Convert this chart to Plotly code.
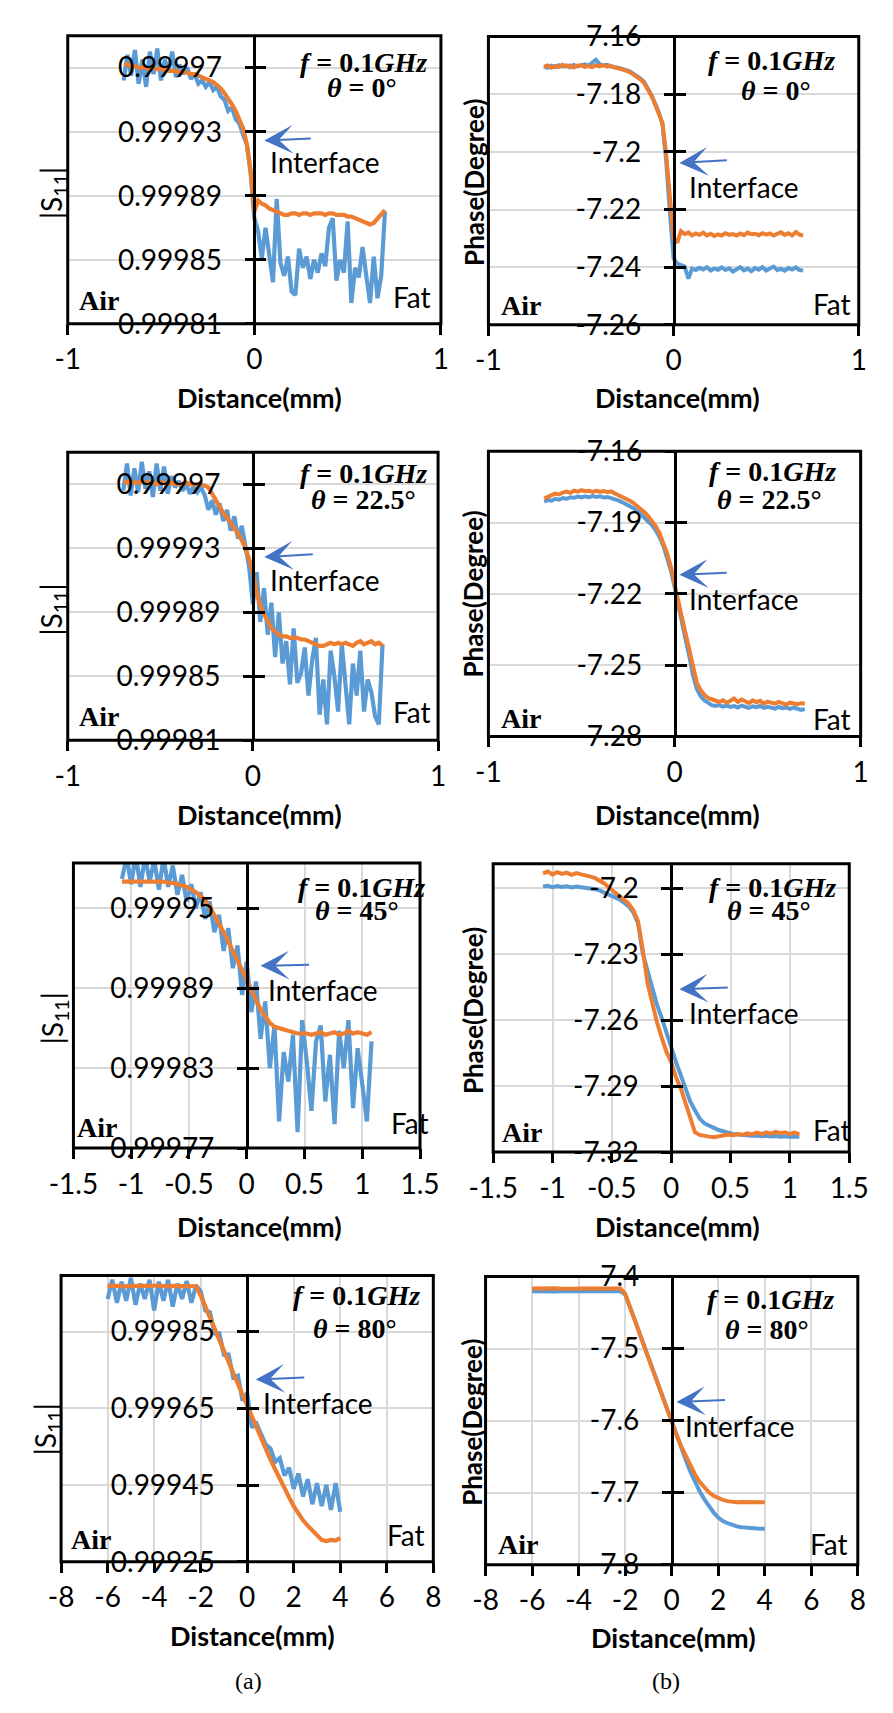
import plotly.graph_objects as go

W, H = 893, 1713
BLUE = "#5B9BD5"
ORANGE = "#ED7D31"
ARROW = "#4472C4"
GRID = "#D9D9D9"

# ---------------- data ----------------
X_A = [-0.70, -0.68, -0.66, -0.64, -0.62, -0.60, -0.58, -0.56, -0.54, -0.52,
       -0.50, -0.48, -0.46, -0.44, -0.42, -0.40, -0.38, -0.36, -0.34, -0.32,
       -0.30, -0.28, -0.26, -0.24, -0.22, -0.20, -0.18, -0.16, -0.14, -0.12,
       -0.10, -0.08, -0.06, -0.04, -0.02, 0.00, 0.02, 0.04, 0.06, 0.08,
       0.10, 0.12, 0.14, 0.16, 0.18, 0.20, 0.22, 0.24, 0.26, 0.28,
       0.30, 0.32, 0.34, 0.36, 0.38, 0.40, 0.42, 0.44, 0.46, 0.48,
       0.50, 0.52, 0.54, 0.56, 0.58, 0.60, 0.62, 0.64, 0.66, 0.68,
       0.70]

S11_0_BLUE = [0.999962, 0.999978, 0.999965, 0.999981, 0.999960, 0.999975, 0.999958, 0.999980, 0.999966, 0.999982,
              0.999962, 0.999975, 0.999968, 0.999980, 0.999964, 0.999972, 0.999966, 0.999970, 0.999963, 0.999966,
              0.999960, 0.999962, 0.999958, 0.999961, 0.999956, 0.999958, 0.999952, 0.999950, 0.999943, 0.999945,
              0.999938, 0.999935, 0.999928, 0.999922, 0.999905, 0.999876, 0.999868, 0.999851, 0.999870, 0.999852,
              0.999836, 0.999888, 0.999848, 0.999840, 0.999852, 0.999830, 0.999828, 0.999857, 0.999845, 0.999852,
              0.999838, 0.999850, 0.999842, 0.999854, 0.999846, 0.999870, 0.999876, 0.999837, 0.999850, 0.999842,
              0.999874, 0.999823, 0.999845, 0.999839, 0.999858, 0.999840, 0.999823, 0.999852, 0.999826, 0.999840,
              0.999880]
S11_0_ORANGE = [0.999972, 0.999972, 0.999971, 0.999971, 0.999970, 0.999970, 0.999970, 0.999969, 0.999970, 0.999969,
                0.999969, 0.999969, 0.999968, 0.999968, 0.999968, 0.999967, 0.999967, 0.999967, 0.999966, 0.999966,
                0.999965, 0.999964, 0.999963, 0.999962, 0.999961, 0.999959, 0.999957, 0.999954, 0.999951, 0.999947,
                0.999943, 0.999938, 0.999932, 0.999922, 0.999905, 0.999880, 0.999887, 0.999885, 0.999884, 0.999882,
                0.999881, 0.999880, 0.999879, 0.999878, 0.999878, 0.999879, 0.999879, 0.999878, 0.999879, 0.999879,
                0.999878, 0.999879, 0.999879, 0.999879, 0.999878, 0.999879, 0.999879, 0.999878, 0.999878, 0.999878,
                0.999877, 0.999877, 0.999876, 0.999875, 0.999874, 0.999873, 0.999872, 0.999873, 0.999876, 0.999878,
                0.999881]

PH_0_BLUE = [-7.1703, -7.1708, -7.1701, -7.1706, -7.1699, -7.1704, -7.1700, -7.1706, -7.1698, -7.1703,
             -7.1700, -7.1696, -7.1701, -7.1690, -7.1680, -7.1695, -7.1700, -7.1698, -7.1703, -7.1706,
             -7.1708, -7.1712, -7.1717, -7.1720, -7.1728, -7.1736, -7.1745, -7.1757, -7.1778, -7.1802,
             -7.1832, -7.1862, -7.1905, -7.2030, -7.2210, -7.2370, -7.2388, -7.2392, -7.2398, -7.2440,
             -7.2405, -7.2410, -7.2402, -7.2408, -7.2400, -7.2412, -7.2405, -7.2409, -7.2401, -7.2410,
             -7.2404, -7.2415, -7.2406, -7.2400, -7.2411, -7.2405, -7.2414, -7.2403, -7.2409, -7.2400,
             -7.2412, -7.2404, -7.2398, -7.2410, -7.2406, -7.2412, -7.2403, -7.2408, -7.2401, -7.2410,
             -7.2412]
PH_0_ORANGE = [-7.1705, -7.1700, -7.1708, -7.1702, -7.1706, -7.1698, -7.1704, -7.1700, -7.1707, -7.1701,
               -7.1699, -7.1705, -7.1702, -7.1706, -7.1700, -7.1703, -7.1698, -7.1704, -7.1702, -7.1707,
               -7.1710, -7.1713, -7.1716, -7.1722, -7.1730, -7.1738, -7.1748, -7.1760, -7.1780, -7.1805,
               -7.1835, -7.1865, -7.1900, -7.2010, -7.2170, -7.2300, -7.2315, -7.2275, -7.2285, -7.2280,
               -7.2290, -7.2283, -7.2288, -7.2280, -7.2290, -7.2284, -7.2292, -7.2286, -7.2290, -7.2282,
               -7.2288, -7.2285, -7.2290, -7.2283, -7.2289, -7.2280, -7.2286, -7.2284, -7.2289, -7.2282,
               -7.2287, -7.2283, -7.2290, -7.2285, -7.2279, -7.2288, -7.2282, -7.2290, -7.2278, -7.2287,
               -7.2290]

S11_22_BLUE = [0.999966, 0.999983, 0.999963, 0.999980, 0.999965, 0.999984, 0.999967, 0.999978, 0.999962, 0.999983,
               0.999966, 0.999981, 0.999964, 0.999975, 0.999968, 0.999972, 0.999966, 0.999970, 0.999964, 0.999969,
               0.999965, 0.999968, 0.999963, 0.999954, 0.999960, 0.999951, 0.999958, 0.999947, 0.999954, 0.999941,
               0.999950, 0.999936, 0.999944, 0.999932, 0.999918, 0.999895, 0.999915, 0.999884, 0.999905, 0.999876,
               0.999896, 0.999862, 0.999890, 0.999858, 0.999872, 0.999845, 0.999880, 0.999846, 0.999852, 0.999868,
               0.999838, 0.999860, 0.999874, 0.999826, 0.999848, 0.999820, 0.999866, 0.999850, 0.999828, 0.999870,
               0.999842, 0.999820, 0.999858, 0.999838, 0.999866, 0.999828, 0.999848, 0.999840, 0.999825, 0.999820,
               0.999870]
S11_22_ORANGE = [0.999972, 0.999971, 0.999972, 0.999971, 0.999971, 0.999972, 0.999971, 0.999971, 0.999971, 0.999970,
                 0.999971, 0.999971, 0.999970, 0.999971, 0.999970, 0.999970, 0.999970, 0.999971, 0.999970, 0.999970,
                 0.999970, 0.999970, 0.999969, 0.999968, 0.999964, 0.999960, 0.999955, 0.999952, 0.999949, 0.999946,
                 0.999943, 0.999939, 0.999935, 0.999930, 0.999923, 0.999915, 0.999903, 0.999894, 0.999889, 0.999884,
                 0.999880, 0.999878, 0.999876, 0.999875, 0.999875, 0.999874, 0.999874, 0.999874, 0.999873, 0.999873,
                 0.999872, 0.999871, 0.999870, 0.999869, 0.999869, 0.999870, 0.999871, 0.999870, 0.999871, 0.999870,
                 0.999871, 0.999870, 0.999869, 0.999871, 0.999872, 0.999870, 0.999871, 0.999872, 0.999870, 0.999871,
                 0.999869]

PH_22_BLUE = [-7.1812, -7.1805, -7.1808, -7.1800, -7.1804, -7.1797, -7.1800, -7.1794, -7.1796, -7.1791,
              -7.1794, -7.1790, -7.1793, -7.1789, -7.1792, -7.1790, -7.1795, -7.1793, -7.1797, -7.1801,
              -7.1808, -7.1815, -7.1822, -7.1830, -7.1840, -7.1852, -7.1866, -7.1880, -7.1895, -7.1912,
              -7.1935, -7.1962, -7.1998, -7.2045, -7.2100, -7.2170, -7.2250, -7.2320, -7.2395, -7.2465,
              -7.2545, -7.2600, -7.2630, -7.2648, -7.2660, -7.2668, -7.2672, -7.2668, -7.2675, -7.2670,
              -7.2676, -7.2672, -7.2678, -7.2670, -7.2675, -7.2680, -7.2673, -7.2677, -7.2672, -7.2680,
              -7.2675, -7.2679, -7.2683, -7.2676, -7.2681, -7.2678, -7.2684, -7.2679, -7.2683, -7.2688,
              -7.2685]
PH_22_ORANGE = [-7.1799, -7.1790, -7.1785, -7.1778, -7.1782, -7.1774, -7.1770, -7.1775, -7.1766, -7.1770,
                -7.1764, -7.1768, -7.1766, -7.1771, -7.1767, -7.1770, -7.1768, -7.1772, -7.1769, -7.1778,
                -7.1785, -7.1792, -7.1800, -7.1808, -7.1818, -7.1830, -7.1843, -7.1858, -7.1875, -7.1895,
                -7.1917, -7.1945, -7.1985, -7.2030, -7.2085, -7.2150, -7.2230, -7.2300, -7.2370, -7.2440,
                -7.2520, -7.2575, -7.2605, -7.2625, -7.2638, -7.2645, -7.2650, -7.2655, -7.2648, -7.2658,
                -7.2650, -7.2640, -7.2655, -7.2645, -7.2652, -7.2660, -7.2648, -7.2656, -7.2650, -7.2662,
                -7.2654, -7.2658, -7.2662, -7.2655, -7.2660, -7.2666, -7.2658, -7.2662, -7.2664, -7.2660,
                -7.2662]

X_B = [-1.08, -1.04, -1.00, -0.96, -0.92, -0.88, -0.84, -0.80, -0.76, -0.72,
       -0.68, -0.64, -0.60, -0.56, -0.52, -0.48, -0.44, -0.40, -0.36, -0.32,
       -0.28, -0.24, -0.20, -0.16, -0.12, -0.08, -0.04, 0.00, 0.04, 0.08,
       0.12, 0.16, 0.20, 0.24, 0.28, 0.32, 0.36, 0.40, 0.44, 0.48,
       0.52, 0.56, 0.60, 0.64, 0.68, 0.72, 0.76, 0.80, 0.84, 0.88,
       0.92, 0.96, 1.00, 1.04, 1.08]

S11_45_BLUE = [0.999972, 0.999988, 0.999968, 0.999990, 0.999966, 0.999989, 0.999970, 0.999986, 0.999964, 0.999988,
               0.999966, 0.999982, 0.999960, 0.999975, 0.999955, 0.999968, 0.999950, 0.999962, 0.999942, 0.999955,
               0.999932, 0.999945, 0.999918, 0.999935, 0.999905, 0.999922, 0.999885, 0.999910, 0.999872, 0.999895,
               0.999852, 0.999880, 0.999830, 0.999862, 0.999790, 0.999842, 0.999820, 0.999855, 0.999782, 0.999866,
               0.999835, 0.999798, 0.999850, 0.999862, 0.999805, 0.999840, 0.999788, 0.999858, 0.999830, 0.999866,
               0.999800, 0.999845, 0.999818, 0.999790, 0.999850]
S11_45_ORANGE = [0.999970, 0.999970, 0.999970, 0.999970, 0.999970, 0.999970, 0.999970, 0.999970, 0.999970, 0.999970,
                 0.999969, 0.999969, 0.999968, 0.999967, 0.999966, 0.999964, 0.999962, 0.999959, 0.999956, 0.999951,
                 0.999945, 0.999939, 0.999932, 0.999925, 0.999918, 0.999910, 0.999903, 0.999896, 0.999889, 0.999881,
                 0.999874, 0.999869, 0.999864, 0.999861, 0.999860, 0.999859, 0.999858, 0.999857, 0.999856, 0.999856,
                 0.999856, 0.999855, 0.999856, 0.999857, 0.999855, 0.999856, 0.999857, 0.999855, 0.999856, 0.999858,
                 0.999856, 0.999857, 0.999856, 0.999855, 0.999857]

PH_45_BLUE = [-7.1993, -7.1990, -7.1996, -7.1991, -7.1995, -7.1992, -7.1997, -7.1993, -7.1996, -7.1998,
              -7.2000, -7.2005, -7.2012, -7.2022, -7.2032, -7.2040, -7.2050, -7.2065, -7.2082, -7.2110,
              -7.2160, -7.2296, -7.2380, -7.2460, -7.2530, -7.2590, -7.2660, -7.2720, -7.2790, -7.2850,
              -7.2910, -7.2970, -7.3010, -7.3048, -7.3070, -7.3082, -7.3090, -7.3100, -7.3108, -7.3112,
              -7.3118, -7.3120, -7.3124, -7.3122, -7.3126, -7.3125, -7.3128, -7.3126, -7.3129, -7.3127,
              -7.3130, -7.3128, -7.3131, -7.3129, -7.3130]
PH_45_ORANGE = [-7.1933, -7.1925, -7.1938, -7.1928, -7.1936, -7.1930, -7.1940, -7.1932, -7.1938, -7.1942,
                -7.1948, -7.1955, -7.1965, -7.1980, -7.2000, -7.2018, -7.2035, -7.2052, -7.2070, -7.2100,
                -7.2150, -7.2280, -7.2430, -7.2520, -7.2610, -7.2680, -7.2745, -7.2790, -7.2860, -7.2910,
                -7.2980, -7.3050, -7.3110, -7.3122, -7.3128, -7.3130, -7.3133, -7.3128, -7.3125, -7.3120,
                -7.3124, -7.3118, -7.3122, -7.3115, -7.3120, -7.3112, -7.3118, -7.3110, -7.3116, -7.3108,
                -7.3114, -7.3110, -7.3118, -7.3112, -7.3120]

X_C = [-6.0, -5.8, -5.6, -5.4, -5.2, -5.0, -4.8, -4.6, -4.4, -4.2,
       -4.0, -3.8, -3.6, -3.4, -3.2, -3.0, -2.8, -2.6, -2.4, -2.2,
       -2.0, -1.8, -1.6, -1.4, -1.2, -1.0, -0.8, -0.6, -0.4, -0.2,
       0.0, 0.2, 0.4, 0.6, 0.8, 1.0, 1.2, 1.4, 1.6, 1.8,
       2.0, 2.2, 2.4, 2.6, 2.8, 3.0, 3.2, 3.4, 3.6, 3.8,
       4.0]

S11_80_BLUE = [0.999935, 0.999985, 0.999925, 0.999980, 0.999930, 0.999990, 0.999920, 0.999975, 0.999935, 0.999985,
               0.999905, 0.999980, 0.999930, 0.999985, 0.999915, 0.999975, 0.999935, 0.999982, 0.999925, 0.999970,
               0.999955, 0.999905, 0.999900, 0.999845, 0.999845, 0.999790, 0.999790, 0.999730, 0.999735, 0.999670,
               0.999690, 0.999600, 0.999610, 0.999585, 0.999555, 0.999545, 0.999510, 0.999520, 0.999475, 0.999495,
               0.999440, 0.999480, 0.999420, 0.999465, 0.999400, 0.999455, 0.999395, 0.999450, 0.999385, 0.999455,
               0.999380]
S11_80_ORANGE = [0.999969, 0.999970, 0.999969, 0.999968, 0.999969, 0.999970, 0.999969, 0.999969, 0.999968, 0.999969,
                 0.999970, 0.999969, 0.999969, 0.999968, 0.999969, 0.999969, 0.999970, 0.999969, 0.999969, 0.999968,
                 0.999944, 0.999914, 0.999886, 0.999857, 0.999828, 0.999799, 0.999771, 0.999742, 0.999713, 0.999684,
                 0.999656, 0.999629, 0.999599, 0.999571, 0.999544, 0.999516, 0.999491, 0.999465, 0.999441, 0.999418,
                 0.999395, 0.999375, 0.999358, 0.999344, 0.999331, 0.999318, 0.999307, 0.999304, 0.999307, 0.999305,
                 0.999312]

PH_80_BLUE = [-7.4205, -7.4208, -7.4203, -7.4206, -7.4204, -7.4207, -7.4205, -7.4203, -7.4206, -7.4204,
              -7.4207, -7.4205, -7.4204, -7.4206, -7.4203, -7.4205, -7.4207, -7.4204, -7.4206, -7.4205,
              -7.4250, -7.4410, -7.4590, -7.4770, -7.4950, -7.5130, -7.5310, -7.5490, -7.5665, -7.5850,
              -7.6035, -7.6200, -7.6370, -7.6540, -7.6705, -7.6850, -7.6980, -7.7090, -7.7190, -7.7275,
              -7.7345, -7.7395, -7.7425, -7.7450, -7.7468, -7.7480, -7.7488, -7.7493, -7.7497, -7.7500,
              -7.7502]
PH_80_ORANGE = [-7.4168, -7.4165, -7.4170, -7.4166, -7.4169, -7.4164, -7.4168, -7.4171, -7.4166, -7.4169,
                -7.4165, -7.4168, -7.4170, -7.4166, -7.4168, -7.4165, -7.4169, -7.4167, -7.4170, -7.4168,
                -7.4236, -7.4405, -7.4586, -7.4768, -7.4950, -7.5132, -7.5314, -7.5495, -7.5668, -7.5850,
                -7.6032, -7.6191, -7.6350, -7.6486, -7.6623, -7.6745, -7.6850, -7.6932, -7.6995, -7.7045,
                -7.7077, -7.7100, -7.7118, -7.7127, -7.7132, -7.7130, -7.7134, -7.7131, -7.7133, -7.7135,
                -7.7132]

# ticks
XT_A = [-1, 0, 1]
XT_A_LBL = ["-1", "0", "1"]
XT_B = [-1.5, -1, -0.5, 0, 0.5, 1, 1.5]
XT_B_LBL = ["-1.5", "-1", "-0.5", "0", "0.5", "1", "1.5"]
XT_C = [-8, -6, -4, -2, 0, 2, 4, 6, 8]
XT_C_LBL = ["-8", "-6", "-4", "-2", "0", "2", "4", "6", "8"]

YT_S11_A = [0.99981, 0.99985, 0.99989, 0.99993, 0.99997]
YT_S11_A_LBL = ["0.99981", "0.99985", "0.99989", "0.99993", "0.99997"]
YT_PH_0 = [-7.26, -7.24, -7.22, -7.20, -7.18, -7.16]
YT_PH_0_LBL = ["-7.26", "-7.24", "-7.22", "-7.2", "-7.18", "-7.16"]
YT_PH_22 = [-7.28, -7.25, -7.22, -7.19, -7.16]
YT_PH_22_LBL = ["-7.28", "-7.25", "-7.22", "-7.19", "-7.16"]
YT_S11_45 = [0.99977, 0.99983, 0.99989, 0.99995]
YT_S11_45_LBL = ["0.99977", "0.99983", "0.99989", "0.99995"]
YT_PH_45 = [-7.32, -7.29, -7.26, -7.23, -7.20]
YT_PH_45_LBL = ["-7.32", "-7.29", "-7.26", "-7.23", "-7.2"]
YT_S11_80 = [0.99925, 0.99945, 0.99965, 0.99985]
YT_S11_80_LBL = ["0.99925", "0.99945", "0.99965", "0.99985"]
YT_PH_80 = [-7.8, -7.7, -7.6, -7.5, -7.4]
YT_PH_80_LBL = ["-7.8", "-7.7", "-7.6", "-7.5", "-7.4"]

THETAS = ["0", "0", "22.5", "22.5", "45", "45", "80", "80"]

# -------------- layout config (pixel positions) --------------
PANELS = [
    dict(x=X_A, b=S11_0_BLUE, o=S11_0_ORANGE, box=(45, 18, 438, 312), xr=(-1, 1), xt=XT_A, xtl=XT_A_LBL,
         yr=(0.99981, 0.99999), yt=YT_S11_A, ytl=YT_S11_A_LBL, kind="s11",
         f=(356, 45), th=(355, 71), intf=(316, 147), head=(252, 125), tail=(300, 123),
         air=(78, 288), fat=(408, 285), ytitle=(30, 178), xtitle=(247, 387)),
    dict(x=X_A, b=PH_0_BLUE, o=PH_0_ORANGE, box=(488, 19, 878, 313), xr=(-1, 1), xt=XT_A, xtl=XT_A_LBL,
         yr=(-7.26, -7.16), yt=YT_PH_0, ytl=YT_PH_0_LBL, kind="ph",
         f=(786, 43), th=(791, 74), intf=(757, 172), head=(689, 148), tail=(738, 145),
         air=(522, 293), fat=(850, 292), ytitle=(472, 168), xtitle=(687, 387)),
    dict(x=X_A, b=S11_22_BLUE, o=S11_22_ORANGE, box=(45, 443, 435, 737), xr=(-1, 1), xt=XT_A, xtl=XT_A_LBL,
         yr=(0.99981, 0.99999), yt=YT_S11_A, ytl=YT_S11_A_LBL, kind="s11",
         f=(356, 465), th=(356, 491), intf=(316, 573), head=(252, 550), tail=(302, 547),
         air=(78, 713), fat=(408, 708), ytitle=(30, 603), xtitle=(247, 813)),
    dict(x=X_A, b=PH_22_BLUE, o=PH_22_ORANGE, box=(488, 442, 880, 733), xr=(-1, 1), xt=XT_A, xtl=XT_A_LBL,
         yr=(-7.28, -7.16), yt=YT_PH_22, ytl=YT_PH_22_LBL, kind="ph",
         f=(787, 463), th=(784, 491), intf=(757, 593), head=(689, 568), tail=(738, 566),
         air=(522, 715), fat=(850, 715), ytitle=(472, 588), xtitle=(687, 813)),
    dict(x=X_B, b=S11_45_BLUE, o=S11_45_ORANGE, box=(51, 862, 416, 1153), xr=(-1.5, 1.5), xt=XT_B, xtl=XT_B_LBL,
         yr=(0.99977, 0.999984), yt=YT_S11_45, ytl=YT_S11_45_LBL, kind="s11",
         f=(354, 887), th=(350, 911), intf=(314, 992), head=(248, 967), tail=(298, 966),
         air=(76, 1132), fat=(405, 1127), ytitle=(30, 1020), xtitle=(247, 1233)),
    dict(x=X_B, b=PH_45_BLUE, o=PH_45_ORANGE, box=(493, 863, 868, 1157), xr=(-1.5, 1.5), xt=XT_B, xtl=XT_B_LBL,
         yr=(-7.32, -7.189), yt=YT_PH_45, ytl=YT_PH_45_LBL, kind="ph",
         f=(787, 887), th=(784, 911), intf=(757, 1015), head=(689, 991), tail=(739, 989),
         air=(523, 1137), fat=(850, 1135), ytitle=(472, 1013), xtitle=(687, 1233)),
    dict(x=X_C, b=S11_80_BLUE, o=S11_80_ORANGE, box=(38, 1283, 430, 1575), xr=(-8, 8), xt=XT_C, xtl=XT_C_LBL,
         yr=(0.99925, 0.999996), yt=YT_S11_80, ytl=YT_S11_80_LBL, kind="s11",
         f=(349, 1303), th=(347, 1337), intf=(309, 1413), head=(243, 1389), tail=(293, 1387),
         air=(70, 1552), fat=(401, 1548), ytitle=(24, 1440), xtitle=(240, 1650)),
    dict(x=X_C, b=PH_80_BLUE, o=PH_80_ORANGE, box=(485, 1284, 877, 1578), xr=(-8, 8), xt=XT_C, xtl=XT_C_LBL,
         yr=(-7.8, -7.4), yt=YT_PH_80, ytl=YT_PH_80_LBL, kind="ph",
         f=(785, 1307), th=(781, 1338), intf=(753, 1437), head=(686, 1412), tail=(736, 1410),
         air=(519, 1557), fat=(847, 1557), ytitle=(470, 1433), xtitle=(683, 1652)),
]

for i, p in enumerate(PANELS):
    if not (len(p["x"]) == len(p["b"]) == len(p["o"])):
        raise SystemExit(f"panel {i}: {len(p['x'])} {len(p['b'])} {len(p['o'])}")

SANS = "Lato"
SERIF = "Liberation Serif"
TICKFONT = dict(family=SANS, size=28, color="black")


def px(x, y):
    return x / W, 1 - y / H


fig = go.Figure()
layout = {}
shapes = []
anns = []

for i, p in enumerate(PANELS):
    k = i + 1
    sfx = "" if k == 1 else str(k)
    osfx = str(k + 8)
    x0, y0, x1, y1 = p["box"]
    dx = [x0 / W, x1 / W]
    dy = [1 - y1 / H, 1 - y0 / H]
    xmin, xmax = p["xr"]
    pos = (x0 + (x1 - x0) * (0 - xmin) / (xmax - xmin)) / W
    lw = 4.2 if p["kind"] == "s11" else 4.0

    fig.add_trace(go.Scatter(x=p["x"], y=p["b"], mode="lines", line=dict(color=BLUE, width=lw),
                             xaxis="x" + sfx, yaxis="y" + sfx, showlegend=False, hoverinfo="skip"))
    fig.add_trace(go.Scatter(x=p["x"], y=p["o"], mode="lines", line=dict(color=ORANGE, width=lw),
                             xaxis="x" + sfx, yaxis="y" + sfx, showlegend=False, hoverinfo="skip"))
    fig.add_trace(go.Scatter(x=[], y=[], mode="lines", xaxis="x" + sfx, yaxis="y" + osfx,
                             showlegend=False, hoverinfo="skip"))

    layout["xaxis" + sfx] = dict(domain=dx, range=list(p["xr"]), anchor="y" + sfx,
                                 tickmode="array", tickvals=p["xt"], ticktext=p["xtl"],
                                 ticks="outside", ticklen=10, tickwidth=3, tickcolor="black",
                                 showline=False, showgrid=True, gridcolor=GRID, gridwidth=1.5,
                                 zeroline=False, tickfont=TICKFONT, ticklabelstandoff=1,
                                 fixedrange=True)
    layout["yaxis" + sfx] = dict(domain=dy, range=list(p["yr"]), anchor="free", position=pos,
                                 tickmode="array", tickvals=p["yt"], ticktext=p["ytl"],
                                 ticks="outside", ticklen=9, tickwidth=3, tickcolor="black",
                                 showline=True, linecolor="black", linewidth=2.5,
                                 showgrid=True, gridcolor=GRID, gridwidth=1.5, zeroline=False,
                                 tickfont=TICKFONT, ticklabelstandoff=17, fixedrange=True)
    layout["yaxis" + osfx] = dict(domain=dy, range=list(p["yr"]), overlaying="y" + sfx,
                                  anchor="free", position=pos,
                                  tickmode="array", tickvals=p["yt"],
                                  ticks="inside", ticklen=11, tickwidth=3, tickcolor="black",
                                  showticklabels=False, showline=False, showgrid=False,
                                  zeroline=False, fixedrange=True)

    shapes.append(dict(type="rect", xref="x" + sfx + " domain", yref="y" + sfx + " domain",
                       x0=0, x1=1, y0=0, y1=1, line=dict(color="black", width=3), layer="above"))

    def add_text(xy, text, font, angle=0):
        ax_, ay_ = px(*xy)
        anns.append(dict(x=ax_, y=ay_, xref="paper", yref="paper", text=text, showarrow=False,
                         xanchor="center", yanchor="middle", font=font, textangle=angle))

    add_text(p["f"], "<b><i>f</i> = 0.1<i>GHz</i></b>", dict(family=SERIF, size=28, color="black"))
    add_text(p["th"], "<b><i>θ</i> = " + THETAS[i] + "°</b>", dict(family=SERIF, size=28, color="black"))
    add_text(p["intf"], "Interface", dict(family=SANS, size=28, color="black"))
    add_text(p["air"], "<b>Air</b>", dict(family=SERIF, size=28, color="black"))
    add_text(p["fat"], "Fat", dict(family=SANS, size=28, color="black"))
    add_text(p["xtitle"], "<b>Distance(mm)</b>", dict(family=SANS, size=27, color="black"))
    if p["kind"] == "s11":
        add_text(p["ytitle"], "|S<sub>11</sub>|", dict(family=SANS, size=28, color="black"), -90)
    else:
        add_text(p["ytitle"], "<b>Phase(Degree)</b>", dict(family=SANS, size=26, color="black"), -90)

    hx, hy = px(*p["head"])
    anns.append(dict(x=hx, y=hy, xref="paper", yref="paper", text="", showarrow=True,
                     ax=p["tail"][0] - p["head"][0], ay=p["tail"][1] - p["head"][1],
                     arrowhead=3, arrowsize=2.4, arrowwidth=2, arrowcolor=ARROW, standoff=0))

for lbl, xy in (("(a)", (235, 1697)), ("(b)", (675, 1697))):
    ax_, ay_ = px(*xy)
    anns.append(dict(x=ax_, y=ay_, xref="paper", yref="paper", text=lbl, showarrow=False,
                     xanchor="center", yanchor="middle", font=dict(family=SERIF, size=24, color="black")))

fig.update_layout(**layout)
fig.update_layout(width=W, height=H, autosize=False, margin=dict(l=0, r=0, t=0, b=0, pad=0),
                  paper_bgcolor="white", plot_bgcolor="white", shapes=shapes, annotations=anns,
                  showlegend=False)

fig.write_html("out.html")
